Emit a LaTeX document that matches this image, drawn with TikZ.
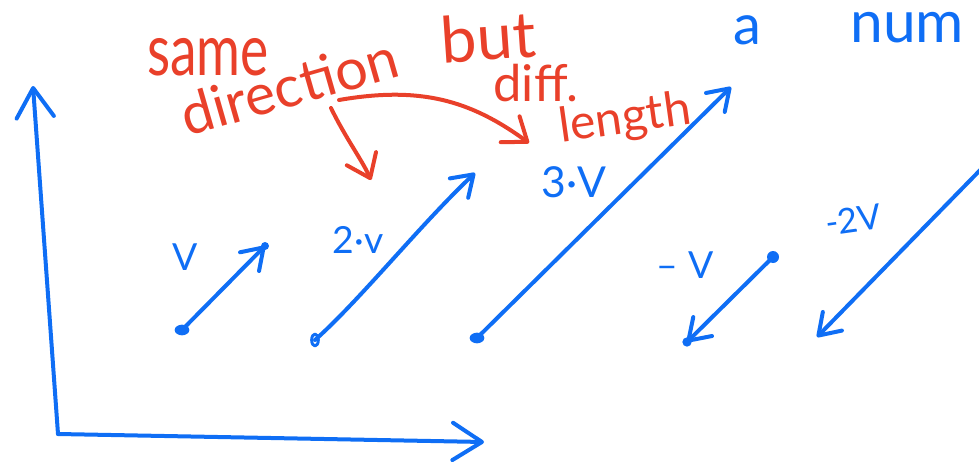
\documentclass[tikz,border=0pt]{standalone}
\usepackage{fontspec}
\setmainfont{Lato}
\usepackage{graphicx}
\usetikzlibrary{arrows.meta}
\definecolor{penblue}{HTML}{0F6EF5}
\definecolor{penred}{HTML}{E9402A}
\newcommand{\handtall}[1]{\scalebox{1}[1.35]{#1}}
\tikzset{
  ink/.style={line width=3pt,line cap=round,line join=round,penblue},
  vec/.style={ink,-{Straight Barb[length=15pt,width=20pt,round]}},
  axis/.style={ink,-{Straight Barb[length=22pt,width=28pt,round]}},
  redar/.style={line width=3pt,line cap=round,penred,-{Straight Barb[length=16pt,width=24pt,round]}},
  note/.style={penred,anchor=base,inner sep=0pt,font=\fontsize{40}{40}\selectfont},
  lab/.style={penblue,anchor=base,inner sep=0pt,font=\fontsize{28}{28}\selectfont}
}
\begin{document}
\begin{tikzpicture}[x=0.75pt,y=-0.75pt]
\useasboundingbox (0,0) rectangle (979,464);
\clip (0,0) rectangle (979,464);
% axes
\coordinate (O) at (58,434);
\coordinate (ytop) at (33,86);
\coordinate (xend) at (484,442);
\draw[axis] (O) -- (ytop);
\draw[axis] (O) -- (xend);
% v and its multiples
\coordinate (v0) at (182,330);
\coordinate (v1) at (265,246);
\draw[vec] (v0) -- (v1);
\fill[penblue] (v0) ellipse (5.5pt and 4pt);
\fill[penblue] (v1) circle (3pt);
\node[lab] (vlab) at (185,270) {V};
\coordinate (w0) at (315,340);
\coordinate (w1) at (475,173);
\draw[vec] (w0) .. controls (360,300) and (420,225) .. (w1);
\draw[ink,line width=2.2pt] (w0) ellipse (2.5pt and 4.5pt);
\node[lab] (wlab) at (358,253) {2·v};
\coordinate (t0) at (477,338);
\coordinate (t1) at (731,87);
\draw[vec] (t0) -- (t1);
\fill[penblue] (t0) ellipse (5.5pt and 4pt);
\node[lab,font=\fontsize{32}{32}\selectfont] (tlab) at (574,197) {3·V};
% negatives
\coordinate (n0) at (773,257);
\coordinate (n1) at (687,342);
\draw[vec] (n0) -- (n1);
\fill[penblue] (n0) circle (4.5pt);
\fill[penblue] (n1) circle (3.5pt);
\node[lab] (nlab) at (685,278) {–\;V};
\coordinate (m0) at (990,160);
\coordinate (m1) at (817,337);
\draw[vec] (m0) -- (m1);
\node[lab,font=\fontsize{26}{26}\selectfont,rotate=8] (mlab) at (855,232) {-2V};
% remarks
\node[note] (same) at (208,75) {\handtall{same}};
\node[note,rotate=16,font=\fontsize{43}{43}\selectfont] (dir) at (295,106) {direction};
\node[note,rotate=4,font=\fontsize{48}{48}\selectfont] (but) at (490,60) {but};
\node[note,font=\fontsize{38}{38}\selectfont] (diff) at (536,101) {diff.};
\node[note,font=\fontsize{36}{36}\selectfont,rotate=8] (len) at (627,133) {length};
\coordinate (r0) at (331,108);
\coordinate (r1) at (371,180);
\draw[redar] (r0) .. controls (345,137) and (362,160) .. (r1);
\coordinate (c0) at (339,100);
\coordinate (c1) at (529,143);
\draw[redar] (c0) .. controls (420,86) and (470,100) .. (c1);
\node[lab,anchor=base west,font=\fontsize{42}{42}\selectfont] (aword) at (733,44) {a};
\node[lab,anchor=base west,font=\fontsize{44}{44}\selectfont] (num) at (850,42) {num};
\end{tikzpicture}
\end{document}
